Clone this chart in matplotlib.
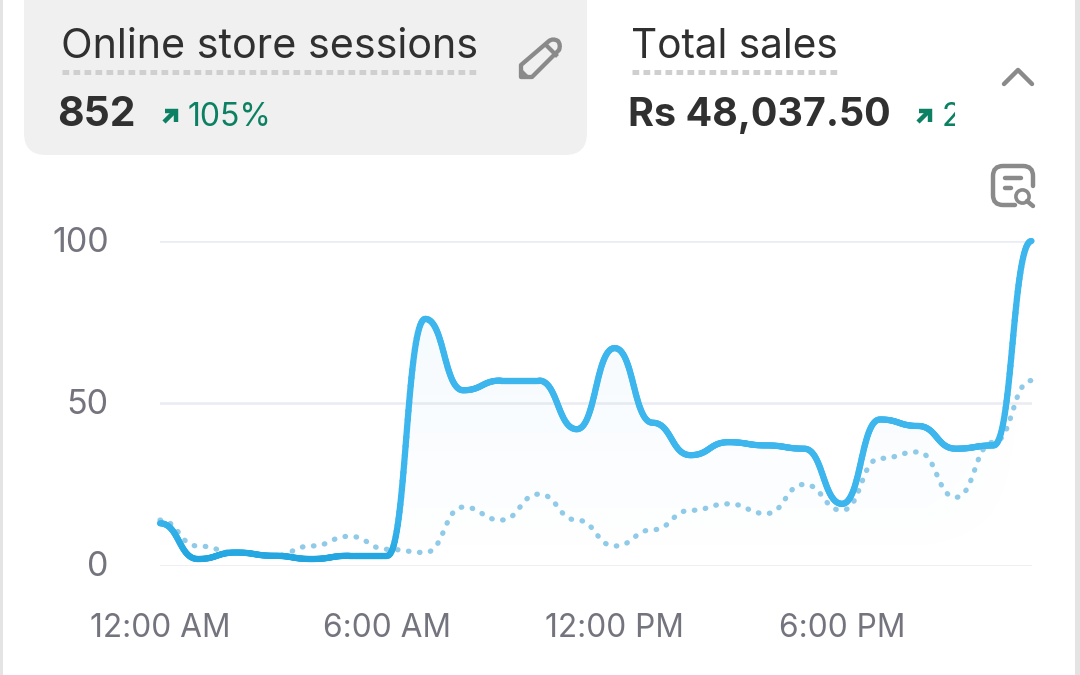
import numpy as np
import matplotlib
matplotlib.use("Agg")
import matplotlib.pyplot as plt
from matplotlib.collections import LineCollection
from matplotlib.colors import LinearSegmentedColormap
from matplotlib.patches import FancyBboxPatch, Rectangle, Polygon, PathPatch
from matplotlib.path import Path
from matplotlib.transforms import ScaledTranslation

hours = list(range(24))
current = [13, 2, 4, 3, 2, 3, 3, 76, 54, 57, 57, 42, 67, 44, 34, 38, 37, 36, 19, 45, 43, 36, 37, 100]
previous = [14, 6, 4, 3, 6, 9, 5, 4, 18, 14, 22, 14, 6, 11, 17, 19, 16, 25, 17, 33, 35, 21, 38, 57]
tick_hours = [0, 6, 12, 18]
tick_labels = ["12:00 AM", "6:00 AM", "12:00 PM", "6:00 PM"]
y_ticks = [0, 50, 100]

W, H = 1080, 675
FONT = "Inter"
plt.rcParams["font.family"] = [FONT, "DejaVu Sans"]


def bump(x, y, n=40):
    """Bezier through the points with horizontal tangents at each (bump-x curve)."""
    x = np.asarray(x, float)
    y = np.asarray(y, float)
    t = np.linspace(0, 1, n, endpoint=False)
    fx = 1.5 * t * (1 - t) + t ** 3
    fy = 3 * t ** 2 - 2 * t ** 3
    xs = [x[i] + (x[i + 1] - x[i]) * fx for i in range(len(x) - 1)] + [x[-1:]]
    ys = [y[i] + (y[i + 1] - y[i]) * fy for i in range(len(y) - 1)] + [y[-1:]]
    return np.concatenate(xs), np.concatenate(ys)


def rounded(points, r):
    """Polyline with quadratic rounded corners, in pixel coordinates."""
    p = [np.array(q, float) for q in points]
    verts, codes = [p[0]], [Path.MOVETO]
    for a, b, c in zip(p[:-2], p[1:-1], p[2:]):
        u = (a - b) / np.linalg.norm(a - b)
        v = (c - b) / np.linalg.norm(c - b)
        verts += [b + u * r, b, b + v * r]
        codes += [Path.LINETO, Path.CURVE3, Path.CURVE3]
    verts.append(p[-1])
    codes.append(Path.LINETO)
    return Path(verts, codes)


fig = plt.figure(figsize=(W / 100, H / 100), dpi=100, facecolor="white")

# ---------- UI layer in pixel coordinates ----------
ui = fig.add_axes([0, 0, 1, 1], zorder=1)
ui.set_xlim(0, W)
ui.set_ylim(H, 0)
ui.axis("off")

ui.add_patch(Rectangle((0, 0), 3, H, fc="#e4e4e4", ec="none"))
ui.add_patch(Rectangle((1075, 0), 5, H, fc="#e4e4e4", ec="none"))
ui.add_patch(FancyBboxPatch((24 + 22, -60 + 22), 563 - 44, 215 - 44,
                            boxstyle="round,pad=22,rounding_size=22",
                            fc="#f0f0f0", ec="none", mutation_aspect=1))

DARK = "#303030"
GREEN = "#0b8062"
GRAY = "#8a8a8a"
ui.text(61, 47, "Online store sessions", fontsize=29.7, color=DARK, va="center", ha="left")
ui.text(631, 47, "Total sales", fontsize=29.2, color=DARK, va="center", ha="left")
ui.text(57.5, 115, "852", fontsize=29.4, color=DARK, va="center", ha="left", fontweight="bold")
ui.text(628, 116, "Rs 48,037.50", fontsize=28.4, color=DARK, va="center", ha="left", fontweight="bold")
ui.text(188, 118, "105%", fontsize=23, color=GREEN, va="center", ha="left")
two = ui.text(942, 118, "2", fontsize=23, color=GREEN, va="center", ha="left")
two.set_clip_path(Rectangle((930, 90), 25, 60, transform=ui.transData))
two.set_clip_on(True)

# dotted underlines under the metric titles
for x0, x1 in [(62, 479), (632, 839)]:
    ui.plot([x0, x1], [72, 72], color="#cfcfcf", lw=3.6,
            linestyle=(0, (1.34, 0.86)), dash_capstyle="butt")

# small up-right arrows
for ox in [161, 915]:
    ui.plot([ox + 3, ox + 13], [122, 112], color=GREEN, lw=3.2, solid_capstyle="butt")
    ui.plot([ox + 4, ox + 15, ox + 15], [111, 111, 122], color=GREEN, lw=3.2,
            solid_joinstyle="miter", solid_capstyle="butt")

# pencil icon
ui.add_patch(PathPatch(Path([(521, 77), (521, 65), (549, 41), (553, 38), (558, 41), (561, 45),
                             (559, 50), (532, 77), (521, 77)],
                            [Path.MOVETO, Path.LINETO, Path.LINETO, Path.CURVE3, Path.CURVE3,
                             Path.CURVE3, Path.CURVE3, Path.LINETO, Path.CLOSEPOLY]),
                       fc="none", ec=GRAY, lw=3.1, joinstyle="round"))
ui.plot([546, 556], [45, 55], color=GRAY, lw=3)
ui.add_patch(Polygon([(521, 77), (521, 69), (529, 77)], closed=True, fc=GRAY, ec=GRAY, lw=1))

# chevron
ui.plot([1004, 1018, 1032], [84, 70, 84], color=GRAY, lw=3.2, solid_capstyle="round",
        solid_joinstyle="round")

# report / search icon
ui.add_patch(PathPatch(rounded([(1015, 205), (993, 205), (993, 166), (1033, 166), (1033, 186)], 10),
                       fc="none", ec=GRAY, lw=3.2, capstyle="round"))
ui.plot([1005, 1021], [178, 178], color=GRAY, lw=3.2, solid_capstyle="round")
ui.plot([1005, 1011], [188, 188], color=GRAY, lw=3.2, solid_capstyle="round")
ui.plot(1022, 196, marker="o", ms=9.5, mfc="none", mec=GRAY, mew=2.6)
ui.plot([1027, 1033], [201, 206], color=GRAY, lw=3.2, solid_capstyle="round")

# ---------- chart layer ----------
LEFT, RIGHT = 160, 1031.5
TOP, BOTTOM = 241, 565.5
ax = fig.add_axes([LEFT / W, 1 - BOTTOM / H, (RIGHT - LEFT) / W, (BOTTOM - TOP) / H], zorder=2)
ax.patch.set_alpha(0)
for s in ax.spines.values():
    s.set_visible(False)

ax.set_yticks(y_ticks)
ax.set_xticks(tick_hours)
ax.set_xticklabels(tick_labels)
ax.tick_params(axis="both", length=0, labelcolor="#74747e")
ax.tick_params(axis="y", pad=37, labelsize=24.5)
ax.tick_params(axis="x", pad=34.5, labelsize=22.8)
for lab in ax.get_yticklabels():
    lab.set_transform(lab.get_transform() + ScaledTranslation(0, 1.5 / 100, fig.dpi_scale_trans))
ax.grid(True, axis="y", color="#eaecf3", lw=1.8)
ax.grid(False, axis="x")
ax.set_axisbelow(True)

xc, yc = bump(hours, current)
xp, yp = bump(hours, previous)

# gradient area under the current series
gx, gy = np.meshgrid(np.linspace(0, 1, 200), np.linspace(1, 0, 200))
rgba = np.zeros((200, 200, 4))
rgba[..., 0], rgba[..., 1], rgba[..., 2] = 0.24, 0.66, 0.93
rgba[..., 3] = 0.045 * np.clip(gy * 1.5, 0, 1) * np.clip((1 - gx) / 0.12, 0, 1)
im = ax.imshow(rgba, extent=(0, 23, 0, 100), aspect="auto", zorder=1, interpolation="bilinear")
clip = Polygon(np.column_stack([np.r_[xc, 23, 0], np.r_[yc, 0, 0]]), closed=True,
               transform=ax.transData, fc="none", ec="none")
ax.add_patch(clip)
im.set_clip_path(clip)

# previous period, dotted
ax.plot(xp, yp, color="#8fcae8", lw=3.8, linestyle=(0, (0.1, 2.0)),
        dash_capstyle="round", clip_on=False, zorder=2)

# current period, colour shifts slightly with height
cmap = LinearSegmentedColormap.from_list("line", ["#1fa4de", "#3ab4ec", "#3db6ee"])
pts = np.column_stack([xc, yc]).reshape(-1, 1, 2)
segs = np.concatenate([pts[:-1], pts[1:]], axis=1)
lc = LineCollection(segs, cmap=cmap, norm=plt.Normalize(0, 30), linewidth=4.5,
                    capstyle="round", joinstyle="round", clip_on=False, zorder=3)
lc.set_array((yc[:-1] + yc[1:]) / 2)
ax.add_collection(lc)

ax.set_xlim(0, 23)
ax.set_ylim(0, 100)

fig.savefig("out.png", dpi=100, facecolor="white")
